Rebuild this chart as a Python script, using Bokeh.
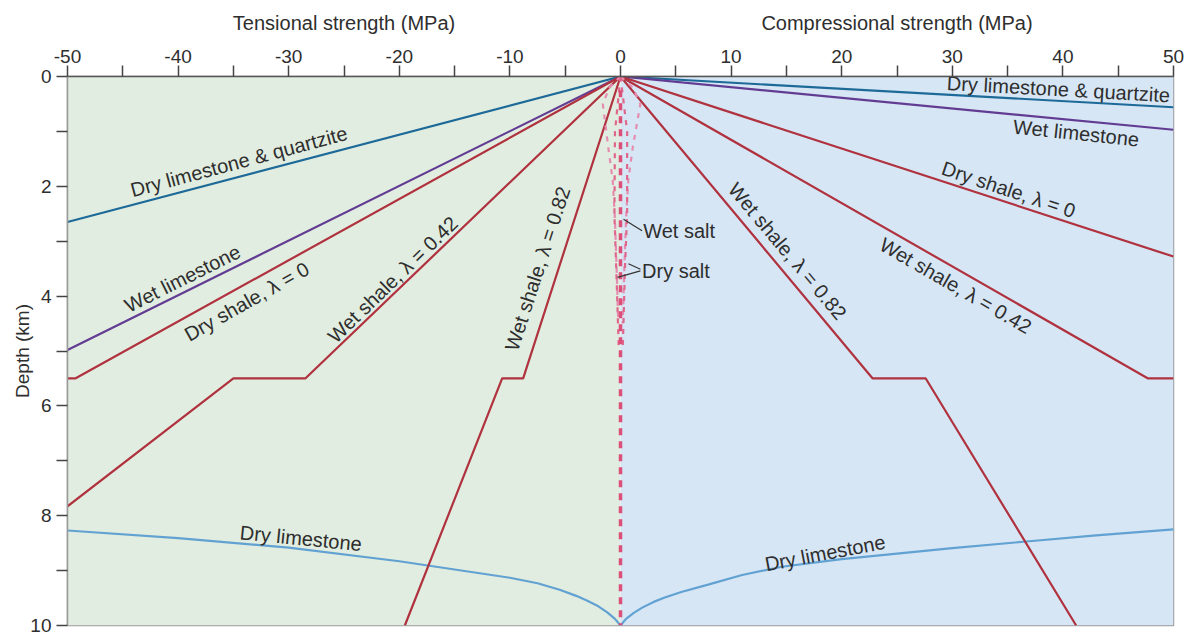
import math
from bokeh.plotting import figure
from bokeh.layouts import column
from bokeh.models import Range1d, FixedTicker, BoxAnnotation, ColumnDataSource
from bokeh.core.properties import value
from bokeh.embed import file_html
from bokeh.resources import INLINE

# ---------------- data ----------------
x_ticks = [-50, -40, -30, -20, -10, 0, 10, 20, 30, 40, 50]
x_minor = [-45, -35, -25, -15, -5, 5, 15, 25, 35, 45]
y_ticks = [0, 2, 4, 6, 8, 10]
y_minor = [1, 3, 5, 7, 9]

axis_titles = ["Tensional strength (MPa)", "Compressional strength (MPa)"]
axis_title_x = [-25, 25]

# strength (MPa, tension negative) vs depth (km)
dry_lq_t_x = [0, -50]
dry_lq_t_d = [0, 2.65]
dry_lq_c_x = [0, 50]
dry_lq_c_d = [0, 0.56]

wet_lime_t_x = [0, -50]
wet_lime_t_d = [0, 4.98]
wet_lime_c_x = [0, 50]
wet_lime_c_d = [0, 0.97]

dry_shale_t_x = [0, -49.3, -50]
dry_shale_t_d = [0, 5.5, 5.5]
dry_shale_c_x = [0, 50]
dry_shale_c_d = [0, 3.28]

wet_sh42_t_x = [0, -28.5, -35.0, -50]
wet_sh42_t_d = [0, 5.5, 5.5, 7.83]
wet_sh42_c_x = [0, 47.7, 50]
wet_sh42_c_d = [0, 5.5, 5.5]

wet_sh82_t_x = [0, -8.8, -10.7, -19.5]
wet_sh82_t_d = [0, 5.5, 5.5, 10]
wet_sh82_c_x = [0, 22.8, 27.6, 41.2]
wet_sh82_c_d = [0, 5.5, 5.5, 10]

dry_lime_t_x = [-50, -40, -30, -20, -15, -10, -7.5, -5.5, -4, -3, -2, -1.2, -0.5, 0]
dry_lime_t_d = [8.27, 8.41, 8.58, 8.83, 8.98, 9.13, 9.23, 9.35, 9.46, 9.55, 9.65, 9.76, 9.88, 10.0]
dry_lime_c_x = [0, 0.5, 1.2, 2, 3, 4, 5.5, 8, 11, 14.6, 20, 25, 30, 36.7, 43, 50]
dry_lime_c_d = [10.0, 9.88, 9.77, 9.67, 9.57, 9.49, 9.39, 9.25, 9.08, 8.93, 8.79, 8.69, 8.59, 8.47, 8.36, 8.25]

wet_salt_l_x = [0, -1.0, -1.6, -1.1, -0.7, -0.5, -0.35, -0.2]
wet_salt_l_d = [0, 0.2, 0.5, 1.3, 1.9, 2.6, 3.5, 4.5]
wet_salt_r_x = [0, 1.1, 1.8, 1.1, 0.7, 0.5, 0.35, 0.2]
wet_salt_r_d = [0, 0.2, 0.5, 1.3, 1.9, 2.6, 3.5, 4.5]
dry_salt_l_x = [0, -0.5, -0.55, -0.35, -0.15]
dry_salt_l_d = [0, 1.0, 2.5, 3.7, 5.0]
dry_salt_r_x = [0, 0.6, 0.6, 0.4, 0.2]
dry_salt_r_d = [0, 1.0, 2.5, 3.5, 5.0]
salt_core_x = [0, 0]
salt_core_d = [0.25, 10]

# curve labels (text, x, depth, angle in degrees)
label_text = ["Dry limestone & quartzite", "Wet limestone", "Dry shale, \u03bb = 0",
              "Wet shale, \u03bb = 0.42", "Wet shale, \u03bb = 0.82", "Dry limestone",
              "Dry limestone", "Dry limestone & quartzite", "Wet limestone",
              "Dry shale, \u03bb = 0", "Wet shale, \u03bb = 0.42", "Wet shale, \u03bb = 0.82"]
label_x = [-34.5, -39.6, -33.8, -20.6, -7.5, -28.9, 18.5, 39.6, 41.2, 35.1, 30.3, 15.1]
label_d = [1.55, 3.68, 4.10, 3.70, 3.50, 8.41, 8.68, 0.23, 1.03, 2.06, 3.81, 3.18]
label_angle = [15, 26.5, 29.5, 44, 72, -5.6, 10.8, -3.2, -6, -18.5, -30, -50]

salt_text = ["Wet salt", "Dry salt"]
salt_text_x = [2.05, 1.95]
salt_text_d = [2.82, 3.54]
leader_xs = [[0.27, 1.95], [0.72, 1.8], [-0.27, 1.8]]
leader_ds = [[2.60, 2.81], [3.41, 3.51], [3.66, 3.54]]

# ---------------- styling ----------------
FONT = "Liberation Sans"
TXT = "#2e2e2e"
RED = "#b0323f"
DKBLUE = "#1d6a98"
PURPLE = "#623c92"
LTBLUE = "#62a2d2"

xr = Range1d(-50, 50)

# strip holding the two halves' axis titles
top = figure(width=1192, height=38, output_backend="svg", toolbar_location=None,
             x_range=xr, y_range=Range1d(0, 1), min_border_left=67, min_border_right=19,
             min_border_top=0, min_border_bottom=0)
top.axis.visible = False
top.grid.visible = False
top.outline_line_color = None
top.background_fill_color = "white"
top.text(x=axis_title_x, y=[0.42, 0.42], text=axis_titles, text_font=value(FONT),
         text_font_size="20px", text_color=TXT, text_align="center", text_baseline="middle")

p = figure(width=1192, height=599, output_backend="svg", toolbar_location=None,
           x_range=xr, y_range=Range1d(10, 0),
           x_axis_location="above", min_border_left=67, min_border_right=19,
           min_border_top=38, min_border_bottom=12)
p.background_fill_color = None
p.border_fill_color = "white"
p.grid.visible = False
p.outline_line_color = "#9a9a9a"
p.outline_line_width = 1.5

p.add_layout(BoxAnnotation(right=0, fill_color="#e1ede0", fill_alpha=1, line_alpha=0, level="underlay"))
p.add_layout(BoxAnnotation(left=0, fill_color="#d6e6f5", fill_alpha=1, line_alpha=0, level="underlay"))

xa = p.xaxis[0]
xa.ticker = FixedTicker(ticks=x_ticks, minor_ticks=x_minor)
xa.major_label_overrides = {t: str(t) for t in x_ticks}
ya = p.yaxis[0]
ya.ticker = FixedTicker(ticks=y_ticks, minor_ticks=y_minor)
for ax in (xa, ya):
    ax.major_tick_in = 0
    ax.minor_tick_in = 0
    ax.major_tick_out = 11
    ax.minor_tick_out = 11
    ax.major_tick_line_color = "#444444"
    ax.minor_tick_line_color = "#444444"
    ax.major_tick_line_width = 1.5
    ax.minor_tick_line_width = 1.5
    ax.major_label_text_font = FONT
    ax.major_label_text_font_size = "19px"
    ax.major_label_text_color = TXT
    ax.axis_label_text_font = FONT
    ax.axis_label_text_font_size = "19px"
    ax.axis_label_text_font_style = "normal"
    ax.axis_label_text_color = TXT
xa.axis_line_color = "#555555"
xa.axis_line_width = 1.5
xa.major_label_standoff = 3
ya.axis_line_color = "#9a9a9a"
ya.axis_line_width = 1.5
ya.major_label_standoff = 5
ya.axis_label = "Depth (km)"
ya.axis_label_standoff = -6

# lines
series = [
    (dry_lime_t_x, dry_lime_t_d, LTBLUE), (dry_lime_c_x, dry_lime_c_d, LTBLUE),
    (dry_lq_t_x, dry_lq_t_d, DKBLUE), (dry_lq_c_x, dry_lq_c_d, DKBLUE),
    (wet_lime_t_x, wet_lime_t_d, PURPLE), (wet_lime_c_x, wet_lime_c_d, PURPLE),
    (dry_shale_t_x, dry_shale_t_d, RED), (dry_shale_c_x, dry_shale_c_d, RED),
    (wet_sh42_t_x, wet_sh42_t_d, RED), (wet_sh42_c_x, wet_sh42_c_d, RED),
    (wet_sh82_t_x, wet_sh82_t_d, RED), (wet_sh82_c_x, wet_sh82_c_d, RED),
]
for xs, ds, c in series:
    p.line(xs, ds, line_color=c, line_width=2.2)

for xs, ds in ((wet_salt_l_x, wet_salt_l_d), (wet_salt_r_x, wet_salt_r_d)):
    p.line(xs, ds, line_color="#e58db1", line_width=2.2, line_dash="5 6")
for xs, ds in ((dry_salt_l_x, dry_salt_l_d), (dry_salt_r_x, dry_salt_r_d)):
    p.line(xs, ds, line_color="#e0678c", line_width=2.2, line_dash="5 6")
p.line(salt_core_x, salt_core_d, line_color="#dc4f78", line_width=3.5, line_dash="7 6")

# leaders
p.multi_line(leader_xs, leader_ds, line_color="#333333", line_width=1.2)

# curve labels
src = ColumnDataSource(dict(x=label_x, y=label_d, text=label_text,
                            angle=[math.radians(a) for a in label_angle]))
p.text(x="x", y="y", text="text", angle="angle", source=src,
       text_font=value(FONT), text_font_size="20px", text_color=TXT,
       text_align="center", text_baseline="middle")
p.text(x=salt_text_x, y=salt_text_d, text=salt_text,
       text_font=value(FONT), text_font_size="20px", text_color=TXT,
       text_align="left", text_baseline="middle")

layout = column(top, p, spacing=0)
open("out.html", "w").write(file_html(layout, INLINE))
